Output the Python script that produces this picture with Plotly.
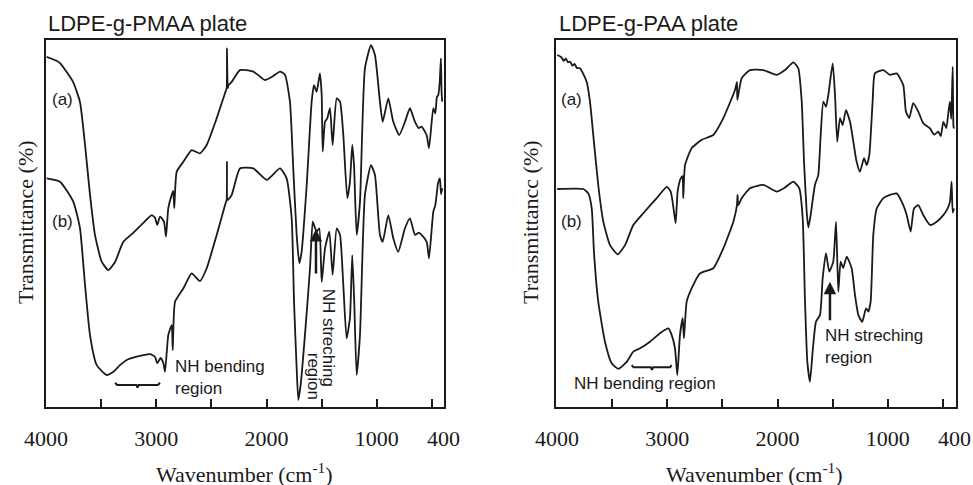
import plotly.graph_objects as go

# ---------------- Data ----------------
# Left panel: LDPE-g-PMAA plate
pmaa_a_wn = [3994, 3950, 3910, 3873, 3755, 3692, 3646, 3601, 3556, 3495, 3435, 3374, 3299, 3211, 3120,
             3042, 3012, 2991, 2966, 2930, 2912, 2891, 2860, 2846, 2837, 2815, 2755, 2679, 2604, 2543,
             2452, 2377, 2362, 2359, 2352, 2345, 2316, 2241, 2120, 2014, 1954, 1878, 1833, 1788, 1758,
             1727, 1703, 1682, 1636, 1591, 1570, 1546, 1516, 1500, 1491, 1470, 1449, 1425, 1401, 1364,
             1334, 1304, 1268, 1244, 1223, 1207, 1183, 1153, 1108, 1053, 1017, 972, 947, 896, 851,
             797, 745, 700, 654, 620, 594, 560, 548, 527, 488, 470, 455, 443, 430, 419, 413, 407]
pmaa_a_t = [95.4, 94.9, 94.4, 93.7, 88.6, 83.1, 71.4, 57.8, 46.9, 39.6, 37.3, 39.5, 45.0, 47.4, 50.1,
            52.3, 51.6, 49.6, 51.9, 50.5, 46.4, 54.2, 57.8, 58.9, 54.2, 64.1, 66.8, 70.0, 69.1, 71.4,
            78.7, 85.5, 86.8, 97.7, 86.9, 87.7, 88.6, 91.8, 91.4, 89.1, 89.9, 91.4, 90.5, 83.2, 65.0,
            46.9, 39.2, 42.3, 60.5, 83.2, 87.7, 85.9, 90.9, 85.0, 69.6, 77.7, 78.7, 81.4, 71.4, 84.1,
            83.2, 74.1, 56.9, 61.4, 71.4, 65.9, 46.9, 55.9, 92.3, 98.6, 95.9, 83.2, 77.7, 84.1, 77.7,
            74.1, 77.7, 81.4, 77.7, 76.0, 76.4, 74.8, 74.1, 70.5, 81.4, 80.0, 84.5, 85.0, 88.5, 95.0, 86.0, 83.2]

pmaa_b_wn = [3994, 3873, 3752, 3692, 3646, 3601, 3540, 3450, 3390, 3329, 3268, 3178, 3057, 3012, 2991,
             2960, 2936, 2921, 2891, 2860, 2851, 2830, 2755, 2679, 2604, 2543, 2452, 2377, 2362, 2359,
             2352, 2316, 2241, 2120, 1999, 1878, 1818, 1772, 1751, 1727, 1712, 1691, 1652, 1606, 1582,
             1570, 1546, 1522, 1500, 1470, 1431, 1401, 1364, 1334, 1304, 1274, 1244, 1223, 1205, 1183,
             1153, 1108, 1053, 1017, 972, 947, 896, 851, 806, 745, 700, 654, 620, 594, 548, 527,
             488, 470, 458, 445, 428, 418, 407]
pmaa_b_t = [62.3, 61.4, 55.9, 48.7, 33.2, 19.6, 11.4, 8.7, 9.6, 11.4, 12.8, 13.7, 14.4, 13.7, 11.9,
            13.4, 12.0, 9.6, 19.6, 22.3, 15.5, 28.7, 32.3, 36.4, 34.3, 37.8, 46.9, 55.0, 56.4, 66.8,
            56.4, 57.8, 65.0, 65.0, 61.9, 65.0, 62.3, 51.4, 28.7, 10.5, 1.9, 6.0, 19.6, 37.8, 50.5,
            49.6, 47.8, 48.7, 34.1, 43.2, 47.8, 36.0, 48.7, 46.9, 33.2, 18.7, 24.2, 41.4, 28.7, 8.7,
            19.6, 57.8, 65.9, 63.2, 46.9, 45.0, 52.3, 46.0, 42.3, 48.7, 51.4, 46.9, 47.5, 46.9, 45.0, 40.5,
            53.2, 55.0, 57.8, 61.0, 62.3, 58.0, 59.6]

# Right panel: LDPE-g-PAA plate
paa_a_wn = [3998, 3960, 3940, 3920, 3900, 3882, 3860, 3840, 3820, 3791, 3731, 3701, 3671, 3626, 3580,
            3519, 3450, 3383, 3308, 3218, 3096, 3005, 2969, 2939, 2924, 2906, 2878, 2862, 2855, 2839,
            2779, 2688, 2583, 2492, 2386, 2368, 2365, 2325, 2250, 2129, 2008, 1933, 1857, 1812, 1781,
            1760, 1736, 1721, 1700, 1661, 1631, 1609, 1585, 1561, 1540, 1500, 1479, 1459, 1434, 1410,
            1380, 1343, 1313, 1283, 1253, 1216, 1192, 1168, 1138, 1117, 1041, 981, 920, 860, 836,
            806, 770, 724, 679, 618, 580, 543, 520, 497, 470, 450, 437, 425, 412, 405, 400]
paa_a_t = [95.9, 95.3, 94.3, 95.0, 93.9, 94.1, 93.0, 93.5, 92.4, 92.3, 88.6, 83.2, 74.1, 60.5, 50.5,
           44.1, 41.6, 44.1, 49.6, 52.8, 56.9, 60.0, 58.7, 53.2, 50.1, 58.7, 62.3, 62.9, 56.9, 65.9,
           70.5, 72.8, 74.1, 78.7, 86.4, 88.6, 83.7, 89.6, 91.8, 91.8, 90.5, 91.8, 93.9, 92.3, 83.2,
           66.8, 53.2, 48.9, 52.3, 60.5, 63.2, 74.1, 83.2, 81.8, 85.0, 93.6, 85.0, 72.3, 78.7, 76.8,
           80.9, 77.7, 72.3, 66.8, 64.1, 67.8, 65.9, 68.7, 83.2, 90.9, 91.8, 90.5, 90.9, 87.7, 80.5,
           78.7, 82.8, 80.5, 77.3, 75.9, 74.2, 75.0, 73.8, 77.7, 76.0, 80.5, 83.2, 78.5, 92.7, 76.5, 75.9]

paa_b_wn = [3998, 3762, 3716, 3685, 3665, 3626, 3565, 3504, 3444, 3368, 3308, 3247, 3157, 3066, 2991,
            2960, 2930, 2909, 2885, 2860, 2849, 2824, 2779, 2703, 2583, 2492, 2401, 2368, 2363, 2356,
            2325, 2250, 2129, 2008, 1933, 1857, 1803, 1772, 1751, 1730, 1706, 1682, 1652, 1615, 1591,
            1561, 1531, 1495, 1470, 1449, 1428, 1404, 1373, 1328, 1298, 1268, 1232, 1198, 1177, 1156,
            1132, 1101, 1041, 981, 920, 860, 829, 793, 763, 724, 679, 618, 557, 497, 460, 437,
            422, 412, 400]
paa_b_t = [59.4, 59.4, 58.2, 54.1, 42.3, 28.7, 17.8, 11.9, 10.4, 12.3, 15.1, 16.0, 17.8, 20.1, 21.4,
           19.6, 16.0, 8.7, 19.6, 24.2, 18.7, 28.7, 32.3, 36.4, 37.8, 43.2, 50.5, 55.0, 57.8, 55.0,
           56.9, 59.6, 60.5, 58.7, 59.8, 61.4, 59.6, 51.4, 28.7, 12.3, 6.9, 15.1, 23.2, 25.1, 35.1,
           41.9, 36.9, 39.6, 50.5, 31.4, 39.6, 37.9, 41.0, 37.8, 30.5, 25.1, 23.2, 26.9, 26.0, 28.7,
           46.9, 54.1, 56.9, 57.8, 58.2, 55.0, 52.3, 47.8, 54.1, 55.0, 52.3, 49.6, 50.5, 52.3, 54.0, 55.9,
           61.4, 53.0, 54.1]

# Annotation braces (NH bending region)
pmaa_brace_wn = [3374, 3355, 3300, 3180, 3170, 3160, 3040, 2985, 2966]
pmaa_brace_t = [6.6, 6.0, 6.0, 6.0, 5.3, 6.0, 6.0, 6.0, 6.6]
paa_brace_wn = [3323, 3305, 3250, 3150, 3139, 3128, 3020, 2975, 2960]
paa_brace_t = [11.4, 10.8, 10.8, 10.8, 10.1, 10.8, 10.8, 10.8, 11.4]

x_tick_vals = [4000, 3500, 3000, 2500, 2000, 1500, 1000, 500]
x_tick_text = ["4000", "", "3000", "", "2000", "", "1000", ""]
x_end_label = 400  # labelled end of the axis (no tick mark drawn there)

panel_titles = ["LDPE-g-PMAA plate", "LDPE-g-PAA plate"]
y_titles = ["Transmittance (%)", "Transmittancc (%)"]
x_title = "Wavenumber (cm<sup>-1</sup>)"

# ---------------- Figure ----------------
W, H = 973, 485
SERIF = "Liberation Serif, Times New Roman, serif"
SANS = "Liberation Sans, Arial, sans-serif"
INK = "#1a1a1a"

fig = go.Figure()
line = dict(color=INK, width=1.8, shape="spline", smoothing=0.5)
fig.add_trace(go.Scatter(x=pmaa_a_wn, y=pmaa_a_t, mode="lines", line=line, xaxis="x", yaxis="y"))
fig.add_trace(go.Scatter(x=pmaa_b_wn, y=pmaa_b_t, mode="lines", line=line, xaxis="x", yaxis="y"))
fig.add_trace(go.Scatter(x=paa_a_wn, y=paa_a_t, mode="lines", line=line, xaxis="x2", yaxis="y2"))
fig.add_trace(go.Scatter(x=paa_b_wn, y=paa_b_t, mode="lines", line=line, xaxis="x2", yaxis="y2"))
brace_line = dict(color=INK, width=2)
fig.add_trace(go.Scatter(x=pmaa_brace_wn, y=pmaa_brace_t, mode="lines", line=brace_line, xaxis="x", yaxis="y"))
fig.add_trace(go.Scatter(x=paa_brace_wn, y=paa_brace_t, mode="lines", line=brace_line, xaxis="x2", yaxis="y2"))

y_dom = [78 / H, 445 / H]
xcommon = dict(tickmode="array", tickvals=x_tick_vals, ticktext=x_tick_text, ticks="inside", ticklen=8,
               tickwidth=1.5, tickcolor=INK, showline=True, linecolor=INK, linewidth=1.5, mirror=True,
               showgrid=False, zeroline=False, tickfont=dict(family=SERIF, size=22, color=INK),
               ticklabelstandoff=11, automargin=False)
ycommon = dict(range=[0, 100], showticklabels=False, ticks="", showline=True, linecolor=INK, linewidth=1.5,
               mirror=True, showgrid=False, zeroline=False, domain=y_dom, automargin=False)

fig.update_layout(
    template="none",
    width=W, height=H, margin=dict(l=0, r=0, t=0, b=0, pad=0, autoexpand=False),
    paper_bgcolor="white", plot_bgcolor="white", showlegend=False,
    xaxis=dict(domain=[46 / W, 444 / W], range=[4000, 391], anchor="y", **xcommon),
    yaxis=dict(anchor="x", **ycommon),
    xaxis2=dict(domain=[556 / W, 956 / W], range=[4009, 382], anchor="y2", **xcommon),
    yaxis2=dict(anchor="x2", **ycommon),
)

ann = []
sans17 = dict(family=SANS, size=17, color=INK)
serif22 = dict(family=SERIF, size=22, color=INK)
# panel titles
ann.append(dict(text=panel_titles[0], xref="paper", yref="paper", x=46 / W, y=(H - 23) / H,
                xanchor="left", yanchor="middle", showarrow=False, font=dict(family=SANS, size=22, color=INK)))
ann.append(dict(text=panel_titles[1], xref="paper", yref="paper", x=557 / W, y=(H - 23) / H,
                xanchor="left", yanchor="middle", showarrow=False, font=dict(family=SANS, size=22, color=INK)))
# "400" end labels
for xr in ["x", "x2"]:
    ann.append(dict(text=str(x_end_label), xref=xr, yref="paper", x=x_end_label, y=(H - 438) / H,
                    xanchor="center", yanchor="middle", showarrow=False, font=serif22))
# y titles
for xp, t in [(25, y_titles[0]), (530, y_titles[1])]:
    ann.append(dict(text=t, xref="paper", yref="paper", x=xp / W, y=(H - 222) / H, textangle=-90,
                    xanchor="center", yanchor="middle", showarrow=False, font=serif22))
# x titles
for xp in [244, 754]:
    ann.append(dict(text=x_title, xref="paper", yref="paper", x=xp / W, y=(H - 473) / H,
                    xanchor="center", yanchor="middle", showarrow=False, font=serif22))
# (a)/(b) labels
for xr, yr, x0 in [("x", "y", 3964), ("x2", "y2", 3982)]:
    ann.append(dict(text="(a)", xref=xr, yref=yr, x=x0, y=83.7, xanchor="left", yanchor="middle",
                    showarrow=False, font=sans17))
    ann.append(dict(text="(b)", xref=xr, yref=yr, x=x0, y=50.5, xanchor="left", yanchor="middle",
                    showarrow=False, font=sans17))
# Left panel notes
ann.append(dict(text="NH bending<br>region", xref="x", yref="y", x=2849, y=8.0, xanchor="left",
                yanchor="middle", align="left", showarrow=False, font=sans17))
ann.append(dict(text="NH streching", xref="x", yref="y", x=1443, y=18.9, textangle=90, xanchor="center",
                yanchor="middle", showarrow=False, font=sans17))
ann.append(dict(text="region", xref="x", yref="y", x=1575, y=8.4, textangle=90, xanchor="center",
                yanchor="middle", showarrow=False, font=sans17))
ann.append(dict(text="", xref="x", yref="y", x=1552, y=48.5, ax=1552, ay=36.0, axref="x", ayref="y",
                showarrow=True, arrowhead=2, arrowsize=1, arrowwidth=2.5, arrowcolor=INK))
# Right panel notes
ann.append(dict(text="NH bending region", xref="x2", yref="y2", x=3864, y=6.3, xanchor="left",
                yanchor="middle", showarrow=False, font=sans17))
ann.append(dict(text="NH streching<br>region", xref="x2", yref="y2", x=1588, y=16.6, xanchor="left",
                yanchor="middle", align="left", showarrow=False, font=sans17))
ann.append(dict(text="", xref="x2", yref="y2", x=1525, y=34.1, ax=1525, ay=23.2, axref="x2", ayref="y2",
                showarrow=True, arrowhead=2, arrowsize=1, arrowwidth=2.5, arrowcolor=INK))

fig.update_layout(annotations=ann)
fig.write_html("out.html", config={"displayModeBar": False},
               post_script="document.body.style.margin='0px';document.body.style.padding='0px';")
